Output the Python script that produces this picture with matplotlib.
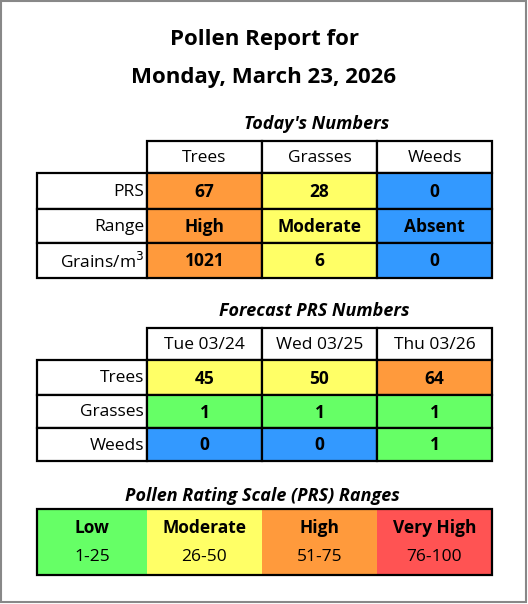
import matplotlib.pyplot as plt
from matplotlib.patches import Rectangle

title_lines = ["Pollen Report for", "Monday, March 23, 2026"]

today_cols = ["Trees", "Grasses", "Weeds"]
today_rows = ["PRS", "Range", "Grains/m$^3$"]
today_vals = [["67", "28", "0"], ["High", "Moderate", "Absent"], ["1021", "6", "0"]]
today_cls = [["high", "mod", "abs"], ["high", "mod", "abs"], ["high", "mod", "abs"]]

fc_cols = ["Tue 03/24", "Wed 03/25", "Thu 03/26"]
fc_rows = ["Trees", "Grasses", "Weeds"]
fc_vals = [["45", "50", "64"], ["1", "1", "1"], ["0", "0", "1"]]
fc_cls = [["mod", "mod", "high"], ["low", "low", "low"], ["abs", "abs", "low"]]

scale_names = ["Low", "Moderate", "High", "Very High"]
scale_ranges = ["1-25", "26-50", "51-75", "76-100"]
scale_cls = ["low", "mod", "high", "vhigh"]

colors = {"low": "#66FF66", "mod": "#FFFF66", "high": "#FF9A3C",
          "vhigh": "#FF5353", "abs": "#3399FF"}

plt.rcParams['font.family'] = ['Open Sans', 'DejaVu Sans']
W, H = 528, 604
fig = plt.figure(figsize=(W / 100, H / 100), dpi=100)
ax = fig.add_axes([0, 0, 1, 1])
ax.set_xlim(0, W)
ax.set_ylim(H, 0)
ax.axis('off')
ax.add_patch(Rectangle((1, 1), W - 3, H - 3, fill=False, ec='#888888', lw=1.5))

edges = [37, 147, 262, 377, 492]
fs = 12.5


def cell(x0, x1, y0, y1, fc='white', lw=1.6):
    ax.add_patch(Rectangle((x0, y0), x1 - x0, y1 - y0, fc=fc, ec='black', lw=lw))


def table(head_y, row_ys, cols, rows, vals, cls):
    for j, c in enumerate(cols):
        cell(edges[j + 1], edges[j + 2], head_y, row_ys[0])
        ax.text((edges[j + 1] + edges[j + 2]) / 2, (head_y + row_ys[0]) / 2 + 1, c,
                ha='center', va='center', fontsize=fs)
    for i, r in enumerate(rows):
        y0, y1 = row_ys[i], row_ys[i + 1]
        cell(edges[0], edges[1], y0, y1)
        ax.text(edges[1] - 3, (y0 + y1) / 2 + 1, r, ha='right', va='center', fontsize=fs)
        for j in range(len(cols)):
            cell(edges[j + 1], edges[j + 2], y0, y1, colors[cls[i][j]])
            ax.text((edges[j + 1] + edges[j + 2]) / 2, (y0 + y1) / 2 + 1, vals[i][j],
                    ha='center', va='center', fontsize=fs, fontweight='bold')


for k, t in enumerate(title_lines):
    ax.text(264, 40 + 37 * k, t, ha='center', va='center', fontsize=16, fontweight='bold')

ax.text(317, 124, "Today's Numbers", ha='center', va='center', fontsize=13,
        fontweight='bold', fontstyle='italic')
table(141, [173, 209, 243, 278], today_cols, today_rows, today_vals, today_cls)

ax.text(314, 311, "Forecast PRS Numbers", ha='center', va='center', fontsize=13,
        fontweight='bold', fontstyle='italic')
table(328, [360, 395, 428, 461], fc_cols, fc_rows, fc_vals, fc_cls)

ax.text(262, 496, "Pollen Rating Scale (PRS) Ranges", ha='center', va='center',
        fontsize=13, fontweight='bold', fontstyle='italic')
for j in range(4):
    x0, x1 = edges[j], edges[j + 1]
    ax.add_patch(Rectangle((x0, 509), x1 - x0, 66, fc=colors[scale_cls[j]], ec='none'))
    ax.text((x0 + x1) / 2, 528, scale_names[j], ha='center', va='center',
            fontsize=fs, fontweight='bold')
    ax.text((x0 + x1) / 2, 557, scale_ranges[j], ha='center', va='center', fontsize=fs)
ax.add_patch(Rectangle((37, 509), 455, 66, fill=False, ec='black', lw=1.6))

fig.savefig('out.png', dpi=100)
